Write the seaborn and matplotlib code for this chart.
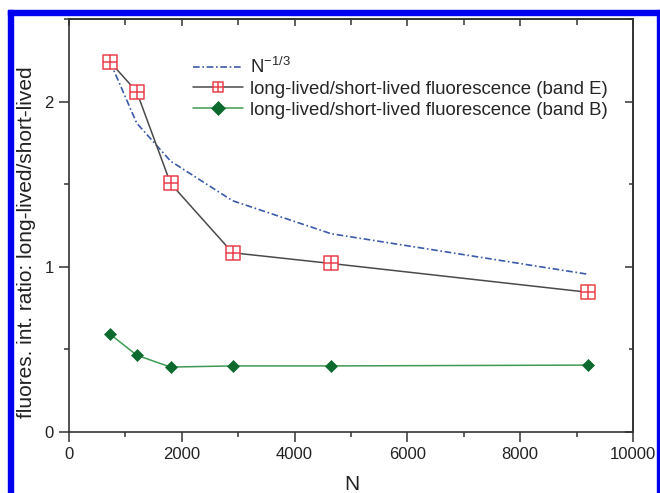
import matplotlib
matplotlib.use("Agg")
import matplotlib.pyplot as plt
from matplotlib.path import Path
from matplotlib.patches import Rectangle
from matplotlib.ticker import MultipleLocator
import seaborn as sns

# Cluster size N and fluorescence intensity ratios
n_atoms = [730, 1200, 1800, 2900, 4650, 9200]
ratio_scaling = [2.24, 1.87, 1.64, 1.40, 1.20, 0.955]
ratio_band_e = [2.24, 2.06, 1.505, 1.085, 1.02, 0.846]
ratio_band_b = [0.592, 0.465, 0.393, 0.40, 0.40, 0.405]

series_labels = [
    r"N$^{\mathregular{-1/3}}$",
    "long-lived/short-lived fluorescence (band E)",
    "long-lived/short-lived fluorescence (band B)",
]
x_ticks = [0, 2000, 4000, 6000, 8000, 10000]
y_ticks = [0, 1, 2]

sns.set_style("ticks")
plt.rcParams["font.family"] = ["Liberation Sans", "DejaVu Sans"]
plt.rcParams["mathtext.fontset"] = "custom"
plt.rcParams["mathtext.rm"] = "Liberation Sans"
plt.rcParams["mathtext.it"] = "Liberation Sans:italic"

fig = plt.figure(figsize=(6.6, 4.93), dpi=100)
ax = fig.add_axes([69 / 660, 61 / 493, 564 / 660, 413 / 493])

# square with a cross inside
boxplus = Path(
    [(-1, -1), (1, -1), (1, 1), (-1, 1), (-1, -1),
     (0, -1), (0, 1), (-1, 0), (1, 0)],
    [Path.MOVETO, Path.LINETO, Path.LINETO, Path.LINETO, Path.CLOSEPOLY,
     Path.MOVETO, Path.LINETO, Path.MOVETO, Path.LINETO],
)

sns.lineplot(x=n_atoms, y=ratio_scaling, ax=ax, color="#3b5aa8", lw=1.2,
             linestyle=(0, (4, 1.6, 1, 1.6)), label=series_labels[0],
             zorder=2)
sns.lineplot(x=n_atoms, y=ratio_band_e, ax=ax, color="#4a4a4a", lw=1.1,
             marker=boxplus, markersize=10, mfc="white", mec="#e8404c",
             mew=1.1, label=series_labels[1], zorder=3)
sns.lineplot(x=n_atoms, y=ratio_band_b, ax=ax, color="#3f9a55", lw=1.1,
             marker="D", markersize=6.3, mfc="#0c6a2e", mec="#0c6a2e",
             mew=0.5, label=series_labels[2], zorder=3)

ax.set_xlim(0, 10000)
ax.set_ylim(0, 2.5)
ax.set_xticks(x_ticks)
ax.set_yticks(y_ticks)
ax.xaxis.set_minor_locator(MultipleLocator(1000))
ax.yaxis.set_minor_locator(MultipleLocator(0.5))

spine_color = "#333333"
for s in ax.spines.values():
    s.set_visible(True)
    s.set_color(spine_color)
    s.set_linewidth(1.2)

ax.tick_params(which="major", direction="out", length=7, width=1.1,
               color=spine_color, labelsize=12, labelcolor="#222222", pad=4)
ax.tick_params(which="minor", direction="out", length=3.5, width=1.1,
               color=spine_color)
ax.tick_params(top=False, right=False)

# mirrored inward ticks on the top and right axes
top = ax.secondary_xaxis("top")
top.set_xticks(x_ticks)
top.xaxis.set_minor_locator(MultipleLocator(1000))
top.tick_params(which="major", direction="in", length=5, width=1.1,
                color=spine_color, labeltop=False)
top.tick_params(which="minor", direction="in", length=4, width=1.1,
                color=spine_color)
top.spines["top"].set_color(spine_color)
top.spines["top"].set_linewidth(1.2)

right = ax.secondary_yaxis("right")
right.set_yticks(y_ticks)
right.yaxis.set_minor_locator(MultipleLocator(0.5))
right.tick_params(which="major", direction="in", length=6, width=1.1,
                  color=spine_color, labelright=False)
right.tick_params(which="minor", direction="in", length=3, width=1.1,
                  color=spine_color)
right.spines["right"].set_color(spine_color)
right.spines["right"].set_linewidth(1.2)

ax.set_xlabel("N", fontsize=15, color="#222222")
ax.xaxis.set_label_coords(0.502, -0.105)
ax.set_ylabel("fluores. int. ratio: long-lived/short-lived", fontsize=15,
              color="#222222")
ax.yaxis.set_label_coords(-0.058, 0.46)

leg = ax.legend(loc="upper left", bbox_to_anchor=(0.22, 0.908),
                frameon=False, borderpad=0, borderaxespad=0,
                handlelength=2.7, handletextpad=0.35, labelspacing=0.2,
                fontsize=13.4)
leg.legend_handles[1].set_markersize(7.5)
leg.legend_handles[2].set_markersize(7.5)

# blue frame around the figure
blue = "#0000f0"
fig.patches.append(Rectangle((8 / 660, 0), 5 / 660, 483 / 493,
                             transform=fig.transFigure, color=blue, zorder=10))
fig.patches.append(Rectangle((8 / 660, 478 / 493), 652 / 660, 5 / 493,
                             transform=fig.transFigure, color=blue, zorder=10))
fig.patches.append(Rectangle((657 / 660, 0), 2 / 660, 483 / 493,
                             transform=fig.transFigure, color=blue, zorder=10))

fig.savefig("out.png", dpi=100, facecolor="white")
